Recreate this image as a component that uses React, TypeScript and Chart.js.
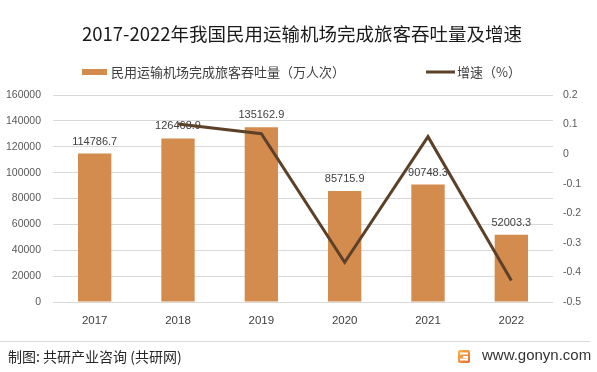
import React, { useEffect, useRef } from "react";
import { Chart, registerables } from "chart.js";

Chart.register(...registerables);

const years = ["2017", "2018", "2019", "2020", "2021", "2022"];
const passengers = [114786.7, 126468.9, 135162.9, 85715.9, 90748.3, 52003.3];
const growth = [null, 0.102, 0.069, -0.366, 0.059, -0.427];
const leftTicks = [0, 20000, 40000, 60000, 80000, 100000, 120000, 140000, 160000];
const rightTicks = [-0.5, -0.4, -0.3, -0.2, -0.1, 0, 0.1, 0.2];

const titleText = "2017-2022年我国民用运输机场完成旅客吞吐量及增速";
const barLabel = "民用运输机场完成旅客吞吐量（万人次）";
const lineLabel = "增速（%）";
const sourceText = "制图: 共研产业咨询 (共研网)";
const siteText = "www.gonyn.com";

const BAR_COLOR = "#d48b4e";
const LINE_COLOR = "#5c4128";
const CJK = '"Noto Sans CJK SC", "Noto Sans", sans-serif';
const LAT = '"Liberation Sans", Arial, sans-serif';

const decorPlugin = {
  id: "decor",
  afterDatasetDraw(chart: any, args: any) {
    if (args.index !== 0) return;
    const ctx = chart.ctx;
    const meta = chart.getDatasetMeta(0);
    ctx.save();
    ctx.font = `11px ${LAT}`;
    ctx.fillStyle = "#404040";
    ctx.textAlign = "center";
    ctx.textBaseline = "middle";
    meta.data.forEach((el: any, i: number) => {
      ctx.fillText(passengers[i].toFixed(1), el.x, el.y - 12);
    });
    ctx.restore();
  },
  afterDraw(chart: any) {
    const ctx = chart.ctx;
    ctx.save();
    // title
    ctx.font = `18.5px ${CJK}`;
    ctx.fillStyle = "#1a1a1a";
    ctx.textAlign = "center";
    ctx.textBaseline = "middle";
    ctx.fillText(titleText, 302, 34);
    // legend
    ctx.fillStyle = BAR_COLOR;
    ctx.fillRect(82, 69, 25, 6);
    ctx.font = `13px ${CJK}`;
    ctx.fillStyle = "#404040";
    ctx.textAlign = "left";
    ctx.fillText(barLabel, 111, 72);
    ctx.strokeStyle = LINE_COLOR;
    ctx.lineWidth = 3;
    ctx.beginPath();
    ctx.moveTo(426, 72);
    ctx.lineTo(455, 72);
    ctx.stroke();
    ctx.fillText(lineLabel, 457, 72);
    // footer
    ctx.strokeStyle = "#d9d9d9";
    ctx.lineWidth = 1;
    ctx.beginPath();
    ctx.moveTo(0, 341.5);
    ctx.lineTo(590, 341.5);
    ctx.stroke();
    ctx.font = `14px ${CJK}`;
    ctx.fillStyle = "#262626";
    ctx.textAlign = "left";
    ctx.fillText(sourceText, 8, 357);
    // logo
    const g = ctx.createLinearGradient(458, 351, 470, 363);
    g.addColorStop(0, "#f9b24a");
    g.addColorStop(1, "#ec6a2c");
    ctx.fillStyle = g;
    ctx.beginPath();
    ctx.roundRect(458, 350, 12, 13, 2);
    ctx.fill();
    ctx.fillStyle = "#ffffff";
    ctx.fillRect(460, 352.5, 8, 2);
    ctx.fillRect(463, 356, 5, 2);
    ctx.fillRect(466, 356, 2, 4.5);
    ctx.fillRect(460, 358.5, 8, 2);
    ctx.font = `15px ${LAT}`;
    ctx.fillStyle = "#333333";
    ctx.fillText(siteText, 482, 356);
    ctx.restore();
  },
};

export default function App() {
  const ref = useRef<HTMLCanvasElement | null>(null);
  useEffect(() => {
    if (!ref.current) return;
    const chart = new Chart(ref.current, {
      type: "bar",
      data: {
        labels: years,
        datasets: [
          {
            type: "bar",
            label: barLabel,
            data: passengers,
            backgroundColor: BAR_COLOR,
            yAxisID: "y",
            barPercentage: 0.4,
            categoryPercentage: 1,
            order: 2,
          },
          {
            type: "line",
            label: lineLabel,
            data: growth as any,
            borderColor: LINE_COLOR,
            backgroundColor: LINE_COLOR,
            borderWidth: 3,
            pointRadius: 0,
            tension: 0,
            yAxisID: "y1",
            order: 1,
          },
        ],
      } as any,
      plugins: [decorPlugin],
      options: {
        responsive: false,
        animation: false,
        layout: { padding: { top: 95, left: 0, right: 0, bottom: 0 } },
        plugins: {
          legend: { display: false },
          title: { display: false },
          tooltip: { enabled: false },
        },
        scales: {
          x: {
            grid: { display: false, drawTicks: false },
            border: { display: false },
            ticks: { font: { size: 11.5, family: LAT }, color: "#404040", padding: 12 },
            afterFit: (s: any) => {
              s.height = 70;
            },
          },
          y: {
            position: "left",
            min: 0,
            max: 160000,
            afterBuildTicks: (s: any) => {
              s.ticks = leftTicks.map((v) => ({ value: v }));
            },
            grid: { color: "#d9d9d9", drawTicks: false },
            border: { display: false },
            ticks: {
              font: { size: 10.5, family: LAT },
              color: "#595959",
              padding: 12,
              callback: (v: any) => String(v),
            },
            afterFit: (s: any) => {
              s.width = 53;
            },
          },
          y1: {
            position: "right",
            min: -0.5,
            max: 0.2,
            afterBuildTicks: (s: any) => {
              s.ticks = rightTicks.map((v) => ({ value: v }));
            },
            grid: { display: false, drawTicks: false },
            border: { display: false },
            ticks: {
              font: { size: 10.5, family: LAT },
              color: "#595959",
              padding: 10,
              callback: (v: any) => String(Math.round(v * 10) / 10),
            },
            afterFit: (s: any) => {
              s.width = 44;
            },
          },
        },
      } as any,
    });
    return () => chart.destroy();
  }, []);
  return (
    <div style={{ position: "absolute", left: 0, top: 0, width: 597, height: 372, background: "#fff" }}>
      <canvas ref={ref} width={597} height={372} />
    </div>
  );
}
